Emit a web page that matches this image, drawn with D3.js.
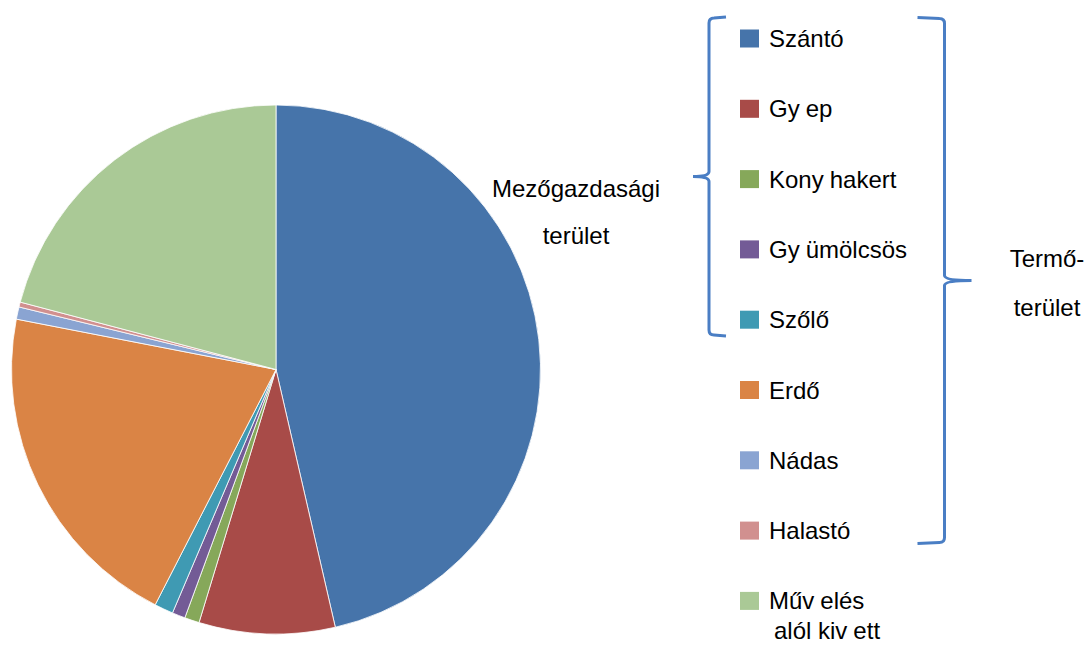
<!DOCTYPE html>
<html lang="hu">
<head>
<meta charset="UTF-8">
<title>Földhasználat</title>
<script src="https://d3js.org/d3.v7.min.js"></script>
<style>
  body { margin: 0; background: #fff; font-family: Arial, "Liberation Sans", sans-serif; }
  svg text { fill: #000; }
</style>
</head>
<body>
<div id="chart"></div>
<script>
// land use categories and their share (%)
var categories = ["Szántó", "Gyep", "Konyhakert", "Gyümölcsös", "Szőlő", "Erdő", "Nádas", "Halastó", "Művelés alól kivett"];
var values = [46.4, 8.3, 0.9, 0.8, 1.15, 20.5, 0.75, 0.3, 20.9];
var colors = ["#4674AA", "#A84B48", "#86A85A", "#735B96", "#3F9AB3", "#DA8445", "#8AA4D2", "#D1908F", "#AAC996"];

// legend lines (last item wraps)
var legendLines = [["Szántó"], ["Gyep"], ["Konyhakert"], ["Gyümölcsös"], ["Szőlő"], ["Erdő"], ["Nádas"], ["Halastó"], ["Művelés", "alól kivett"]];

var width = 1086, height = 651;
var cx = 276, cy = 369.5, radius = 264.5;

var svg = d3.select("#chart").append("svg")
  .attr("width", width)
  .attr("height", height);

var color = d3.scaleOrdinal().domain(categories).range(colors);

var pie = d3.pie().sort(null).value(function(d) { return d.value; });
var arc = d3.arc().innerRadius(0).outerRadius(radius);

var data = categories.map(function(c, i) { return { key: c, value: values[i] }; });

svg.append("g")
  .attr("transform", "translate(" + cx + "," + cy + ")")
  .selectAll("path")
  .data(pie(data))
  .enter().append("path")
    .attr("d", arc)
    .attr("fill", function(d) { return color(d.data.key); })
    .attr("stroke", "#fff")
    .attr("stroke-width", 0.8);

// legend
var legendX = 740, legendY0 = 39, legendStep = 70.3, box = 19;
var ly = d3.scaleLinear().domain([0, 1]).range([legendY0, legendY0 + legendStep]);

// Excel leaves a gap after "y" / "v" in this font, mimic it with dx
function addLabel(sel, str) {
  var parts = str.split(/(?<=[yv])/);
  parts.forEach(function(p, i) {
    sel.append("tspan").attr("dx", i === 0 ? 0 : 6).text(p);
  });
}

var legend = svg.selectAll(".legend")
  .data(categories)
  .enter().append("g")
    .attr("class", "legend")
    .attr("transform", function(d, i) { return "translate(" + legendX + "," + ly(i) + ")"; });

legend.append("rect")
  .attr("x", 0)
  .attr("y", -box / 2)
  .attr("width", box)
  .attr("height", box - 1)
  .attr("fill", function(d) { return color(d); });

legend.each(function(d, i) {
  var g = d3.select(this);
  legendLines[i].forEach(function(line, j) {
    var t = g.append("text")
      .attr("x", j === 0 ? 29 : 34)
      .attr("y", 8 + j * 30)
      .style("font-size", "24px");
    addLabel(t, line);
  });
});

// braces
function brace(x, top, bottom, dir, tip, arm) {
  var mid = (top + bottom) / 2, r = 5;
  return "M" + (x - dir * arm) + "," + top +
    " L" + (x - dir * r) + "," + (top + 1) +
    " Q" + x + "," + (top + 1) + " " + x + "," + (top + r + 1) +
    " L" + x + "," + (mid - 5) +
    " Q" + x + "," + mid + " " + (x + dir * tip) + "," + mid +
    " Q" + x + "," + mid + " " + x + "," + (mid + 5) +
    " L" + x + "," + (bottom - r - 1) +
    " Q" + x + "," + (bottom - 1) + " " + (x - dir * r) + "," + (bottom - 1) +
    " L" + (x - dir * arm) + "," + bottom;
}

svg.append("path")
  .attr("d", brace(709, 17, 336, -1, 16, 17))
  .attr("fill", "none")
  .attr("stroke", "#4A7EC4")
  .attr("stroke-width", 3);

svg.append("path")
  .attr("d", brace(944.5, 17.5, 543.5, 1, 27, 27))
  .attr("fill", "none")
  .attr("stroke", "#4A7EC4")
  .attr("stroke-width", 3);

// brace labels
var labels = [
  { x: 576, y: 197, text: "Mezőgazdasági" },
  { x: 576, y: 244, text: "terület" },
  { x: 1047, y: 267, text: "Termő-" },
  { x: 1047, y: 316, text: "terület" }
];

svg.selectAll(".blabel")
  .data(labels)
  .enter().append("text")
    .attr("class", "blabel")
    .attr("x", function(d) { return d.x; })
    .attr("y", function(d) { return d.y; })
    .attr("text-anchor", "middle")
    .style("font-size", "24px")
    .text(function(d) { return d.text; });
</script>
</body>
</html>
